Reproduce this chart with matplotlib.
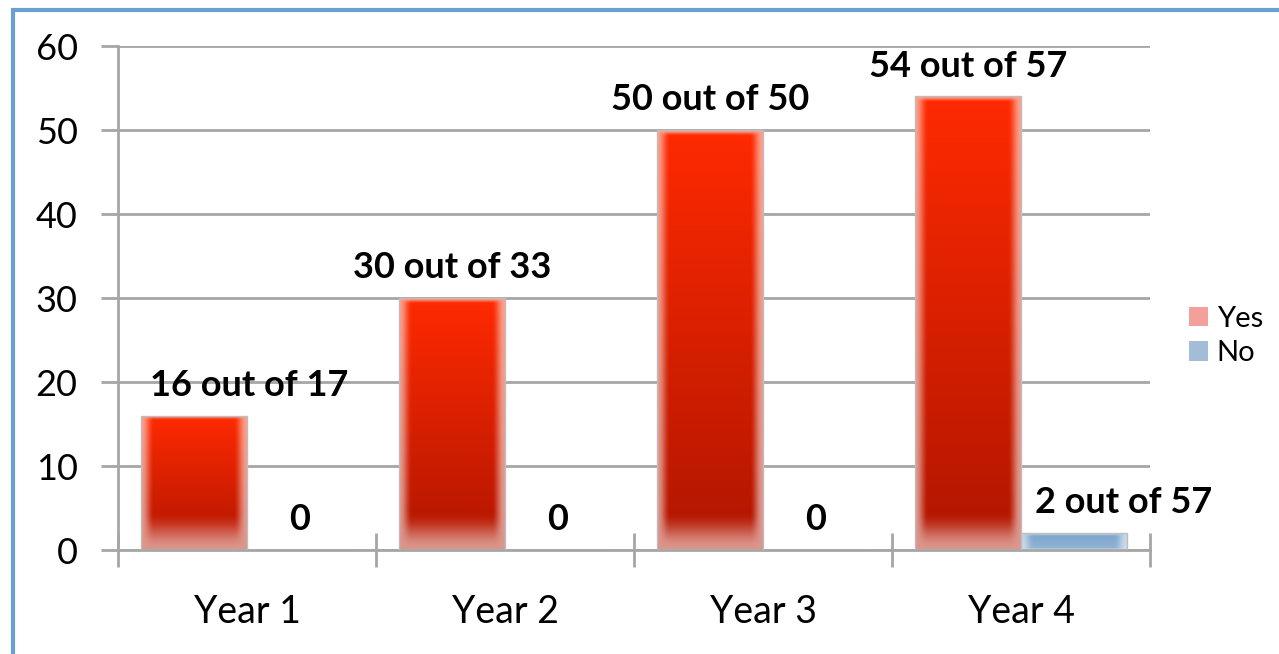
import numpy as np
import matplotlib
matplotlib.use("Agg")
import matplotlib.pyplot as plt
from matplotlib.patches import Rectangle, Patch
from matplotlib.ticker import FixedLocator, NullFormatter

plt.rcParams['font.family'] = ['Lato', 'DejaVu Sans']

categories = ["Year 1", "Year 2", "Year 3", "Year 4"]
yes_values = [16, 30, 50, 54]
no_values = [0, 0, 0, 2]
yes_labels = ["16 out of 17", "30 out of 33", "50 out of 50", "54 out of 57"]
no_labels = ["0", "0", "0", "2 out of 57"]
# label horizontal offsets (points) as placed in the original
yes_label_dx = [40, 0, 0, 0]
no_label_dx = [0, 0, 0, 36]
yticks = [0, 10, 20, 30, 40, 50, 60]

W, H = 1279, 654
fig = plt.figure(figsize=(W / 100, H / 100), dpi=100)
ax = fig.add_axes([118 / W, 1 - 550 / H, (1150 - 118) / W, (550 - 46) / H])

GRAY = "#a6a6a6"
x = np.arange(len(categories))
bw = 0.41

def smooth(t):
    t = np.clip(t, 0, 1)
    return t * t * (3 - 2 * t)

def gradient_image(h, top, bottom, edge_frac, fade_units, top_units, nrows=300, ncols=80):
    top = np.array(matplotlib.colors.to_rgb(top))
    bottom = np.array(matplotlib.colors.to_rgb(bottom))
    yy = np.linspace(h, 0, nrows)[:, None]  # row 0 = top
    xx = np.linspace(0, 1, ncols)[None, :]
    t = yy / max(h, 1e-9)
    base = bottom[None, None, :] + (top - bottom)[None, None, :] * t[..., None]
    ex = smooth(np.minimum(xx, 1 - xx) / edge_frac)
    eb = smooth(yy / fade_units)
    et = smooth((h - yy) / top_units)
    a = 0.45 + 0.55 * (ex * eb * et)
    rgb = base * a[..., None] + (1 - a[..., None]) * 1.0
    img = np.ones((nrows, ncols, 4))
    img[..., :3] = rgb
    return img

yes_bars = ax.bar(x - bw / 2, yes_values, bw, facecolor="none", edgecolor="#bdbdbd",
                  linewidth=1.0, zorder=3)
no_bars = ax.bar(x + bw / 2, no_values, bw, facecolor="none", edgecolor="#bdbdbd",
                 linewidth=1.0, zorder=3)

for p in yes_bars:
    h = p.get_height()
    if h <= 0:
        continue
    img = gradient_image(h, "#ff2a00", "#b01500", 0.12, 4.5, 0.6)
    im = ax.imshow(img, extent=(p.get_x(), p.get_x() + p.get_width(), 0, h),
                   aspect="auto", zorder=2, interpolation="bilinear")
    im.set_clip_path(p)

for p in no_bars:
    h = p.get_height()
    if h <= 0:
        continue
    img = gradient_image(h, "#7aa3ca", "#93b5d6", 0.12, 0.3, 0.4)
    im = ax.imshow(img, extent=(p.get_x(), p.get_x() + p.get_width(), 0, h),
                   aspect="auto", zorder=2, interpolation="bilinear")
    im.set_clip_path(p)

for p, lab, dx in zip(yes_bars, yes_labels, yes_label_dx):
    ax.annotate(lab, (p.get_x() + p.get_width() / 2, p.get_height()),
                xytext=(dx, 10), textcoords="offset points", ha="center", va="bottom",
                fontsize=26, fontweight="bold", color="black", zorder=5)
for p, lab, dx in zip(no_bars, no_labels, no_label_dx):
    ax.annotate(lab, (p.get_x() + p.get_width() / 2, p.get_height()),
                xytext=(dx, 10), textcoords="offset points", ha="center", va="bottom",
                fontsize=26, fontweight="bold", color="black", zorder=5)

ax.set_xlim(-0.5, len(categories) - 0.5)
ax.set_ylim(0, 60)
ax.set_yticks(yticks)
ax.set_yticklabels([str(v) for v in yticks])
ax.yaxis.grid(True, color=GRAY, linewidth=2)
ax.set_axisbelow(True)

ax.xaxis.set_major_locator(FixedLocator(np.arange(-0.5, len(categories), 1.0)))
ax.xaxis.set_major_formatter(NullFormatter())
ax.xaxis.set_minor_locator(FixedLocator(x))
ax.set_xticks(x, minor=True)
ax.set_xticklabels(categories, minor=True)
ax.tick_params(axis="x", which="major", direction="inout", length=24, width=2, color=GRAY)
ax.tick_params(axis="x", which="minor", length=0, pad=32, labelsize=27)
ax.tick_params(axis="y", direction="out", length=12, width=2, color=GRAY, pad=17, labelsize=26)

for s in ["top", "right"]:
    ax.spines[s].set_visible(False)
for s in ["left", "bottom"]:
    ax.spines[s].set_color(GRAY)
    ax.spines[s].set_linewidth(2)

handles = [Patch(facecolor="#f3a09c", edgecolor="none", label="Yes"),
           Patch(facecolor="#a3bdd8", edgecolor="none", label="No")]
fig.legend(handles=handles, loc="center left", bbox_to_anchor=(1189 / W, 1 - 336 / H),
           frameon=False, fontsize=21, handlelength=0.65, handleheight=0.65,
           handletextpad=0.3, labelspacing=0.3, borderpad=0, borderaxespad=0)

border = Rectangle((13 / W, -0.1), 2, 1 - 10 / H + 0.1, transform=fig.transFigure,
                   fill=False, edgecolor="#6a9fd0", linewidth=3, zorder=10)
fig.patches.append(border)

fig.savefig("out.png", dpi=100)
